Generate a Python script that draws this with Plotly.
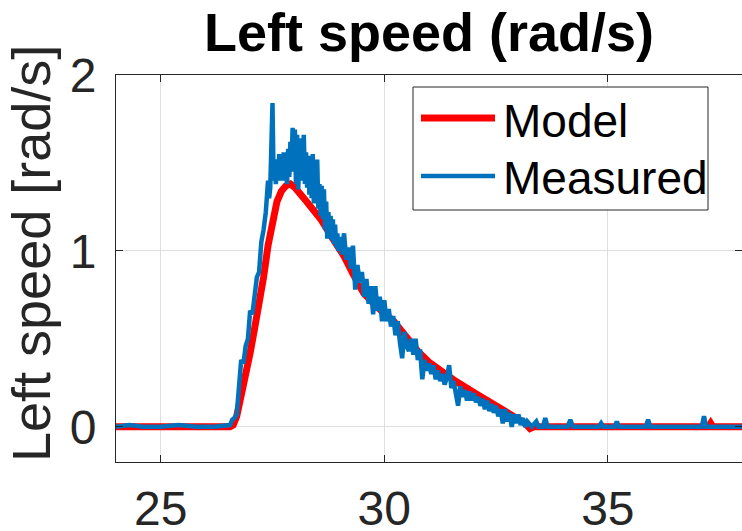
import plotly.graph_objects as go

# ---- data ----
model_t = [24.0, 26.55, 26.62, 26.7, 26.8, 26.9, 27.0, 27.1, 27.2, 27.3, 27.4, 27.5, 27.6, 27.7,
           27.8, 27.9, 28.0, 28.2, 28.4, 28.58, 28.8, 29.1, 29.3, 29.54, 29.8, 30.0, 30.21, 30.5,
           30.75, 30.99, 31.25, 31.59, 32.04, 32.3, 32.55, 32.8, 33.0, 33.15, 33.26, 33.35, 37.25,
           37.3, 37.35, 38.0]
model_v = [0.0, 0.0, 0.01, 0.06, 0.18, 0.29, 0.42, 0.56, 0.69, 0.85, 1.03, 1.18, 1.28, 1.34,
           1.37, 1.38, 1.36, 1.30, 1.24, 1.18, 1.09, 0.97, 0.87, 0.76, 0.69, 0.64, 0.60, 0.51,
           0.43, 0.37, 0.32, 0.26, 0.19, 0.15, 0.11, 0.07, 0.04, 0.02, -0.01, 0.0, 0.0,
           0.02, 0.0, 0.0]

meas_t = [24.00, 24.30, 24.60, 25.00, 25.40, 25.80, 26.20, 26.50, 26.55, 26.60, 26.65, 26.70,
          26.75, 26.80, 26.85, 26.90, 26.95, 27.00, 27.05, 27.10, 27.15, 27.20, 27.25, 27.30,
          27.35,
          27.400, 27.425, 27.450, 27.475, 27.500, 27.525, 27.550, 27.575, 27.600, 27.625,
          27.650, 27.675, 27.700, 27.725, 27.750, 27.775, 27.800, 27.825, 27.850, 27.875,
          27.900, 27.925, 27.950, 27.975, 28.000, 28.025, 28.050, 28.075, 28.100, 28.125,
          28.150, 28.175, 28.200, 28.225, 28.250, 28.275, 28.300, 28.325, 28.350, 28.375,
          28.400, 28.425, 28.450, 28.475, 28.500, 28.525, 28.550, 28.575, 28.600, 28.625,
          28.650, 28.675, 28.700, 28.725, 28.750, 28.775, 28.800, 28.825, 28.850, 28.875,
          28.900, 28.925, 28.950, 28.975,
          29.00, 29.05, 29.10,
          29.15, 29.20, 29.25, 29.30, 29.35, 29.40, 29.45, 29.50, 29.55, 29.60, 29.65, 29.70,
          29.75, 29.80, 29.85, 29.90, 29.95, 30.00, 30.05, 30.10, 30.15, 30.20, 30.25, 30.30,
          30.35, 30.40, 30.45, 30.50, 30.55, 30.60, 30.65, 30.70, 30.75, 30.80, 30.85, 30.90,
          30.95, 31.00, 31.05, 31.10, 31.15, 31.20, 31.25, 31.30, 31.35, 31.40, 31.45, 31.50,
          31.55, 31.60, 31.65, 31.70, 31.75, 31.80, 31.85, 31.90, 31.95, 32.00, 32.05, 32.10,
          32.15, 32.20, 32.25, 32.30, 32.35, 32.40, 32.45, 32.50, 32.55, 32.60, 32.65, 32.70,
          32.75, 32.80, 32.85, 32.90, 32.95, 33.00, 33.05, 33.10, 33.15, 33.20, 33.25, 33.30,
          33.40, 33.45, 33.55, 33.60, 33.65, 34.10, 34.16, 34.22, 34.80, 34.85, 34.90, 35.15,
          35.20, 35.25, 35.85, 35.90, 35.95, 37.10, 37.15, 37.20, 38.00]
meas_v = [0.00, 0.01, 0.00, 0.00, 0.01, 0.00, 0.00, 0.01, 0.01, 0.04, 0.05, 0.07,
          0.20, 0.38, 0.36, 0.46, 0.50, 0.66, 0.64, 0.74, 0.85, 0.88, 1.05, 1.12,
          1.22,
          1.40, 1.30, 1.36, 1.55, 1.84, 1.40, 1.48, 1.38, 1.52, 1.42,
          1.55, 1.40, 1.50, 1.42, 1.56, 1.40, 1.48, 1.38, 1.58, 1.42,
          1.62, 1.50, 1.70, 1.45, 1.69, 1.38, 1.66, 1.35, 1.52, 1.40,
          1.64, 1.45, 1.66, 1.38, 1.56, 1.36, 1.54, 1.32, 1.48, 1.30,
          1.55, 1.27, 1.45, 1.30, 1.52, 1.24, 1.38, 1.20, 1.37, 1.18,
          1.35, 1.12, 1.28, 1.07, 1.22, 1.10, 1.20, 1.06, 1.18, 1.04,
          1.15, 1.02, 1.10, 1.00,
          1.08, 0.98, 1.10,
          0.95, 1.02, 0.90, 1.03, 0.78, 0.92, 0.82, 0.88, 0.74, 0.84, 0.70, 0.80,
          0.64, 0.80, 0.66, 0.74, 0.60, 0.72, 0.60, 0.67, 0.57, 0.63, 0.52, 0.60,
          0.48, 0.39, 0.54, 0.46, 0.43, 0.50, 0.41, 0.50, 0.38, 0.44, 0.27, 0.38,
          0.32, 0.36, 0.30, 0.35, 0.27, 0.32, 0.26, 0.30, 0.24, 0.28, 0.35, 0.22,
          0.26, 0.20, 0.12, 0.23, 0.17, 0.21, 0.15, 0.20, 0.15, 0.19, 0.14, 0.17,
          0.12, 0.16, 0.10, 0.15, 0.09, 0.13, 0.08, 0.12, 0.06, 0.10, 0.02, 0.10,
          0.03, 0.08, 0.00, 0.07, 0.02, 0.07, 0.01, 0.05, 0.00, 0.03, 0.01, 0.00,
          0.03, 0.00, 0.00, 0.05, 0.00, 0.00, 0.04, 0.00, 0.00, 0.02, 0.00, 0.00,
          0.03, 0.00, 0.00, 0.04, 0.00, 0.00, 0.06, 0.00, 0.00]

x_ticks = [25, 30, 35]
y_ticks = [0, 1, 2]
title_text = "Left speed (rad/s)"
ylabel_text = "Left speed [rad/s]"
legend_names = ["Model", "Measured"]

# ---- style ----
FONT = "Liberation Sans, Arial, Helvetica, sans-serif"
DARK = "#262626"
GRID = "#dfdfdf"
RED = "#FF0000"
BLUE = "#0072BD"

W, H = 742, 531
ML, MR, MT, MB = 116, 0, 75, 69
PW, PH = W - ML - MR, H - MT - MB


def px2paper_x(px):
    return (px - ML) / PW


def px2paper_y(py):
    return (H - MB - py) / PH


fig = go.Figure()
fig.add_trace(go.Scatter(x=model_t, y=model_v, mode="lines", name=legend_names[0],
                         line=dict(color=RED, width=7), showlegend=False))
fig.add_trace(go.Scatter(x=meas_t, y=meas_v, mode="lines", name=legend_names[1],
                         line=dict(color=BLUE, width=4.5), showlegend=False))

axis_common = dict(
    showgrid=True, gridcolor=GRID, gridwidth=1, zeroline=False,
    showline=True, linecolor=DARK, linewidth=1, mirror="ticks",
    ticks="inside", ticklen=7, tickcolor=DARK, tickwidth=1,
    tickfont=dict(family=FONT, size=48, color=DARK),
    automargin=False,
)

fig.update_layout(
    width=W, height=H,
    margin=dict(l=ML, r=MR, t=MT, b=MB, pad=0),
    paper_bgcolor="white", plot_bgcolor="white",
    showlegend=False,
    title=dict(text="<b>" + title_text + "</b>", x=0.5, xref="paper", xanchor="center",
               y=1 - 32 / H, yref="container", yanchor="middle",
               font=dict(family=FONT, size=54, color="black"), automargin=False),
    xaxis=dict(range=[24, 38], tickvals=x_ticks, ticktext=[str(v) for v in x_ticks],
               ticklabelstandoff=4, **axis_common),
    yaxis=dict(range=[-0.2, 2], tickvals=y_ticks, ticktext=[str(v) for v in y_ticks],
               ticklabelstandoff=9, **axis_common),
)

# y-axis label
fig.add_annotation(text=ylabel_text, xref="paper", yref="paper",
                   x=px2paper_x(31), y=px2paper_y(254), xanchor="center", yanchor="middle",
                   textangle=-90, showarrow=False,
                   font=dict(family=FONT, size=54, color=DARK))

# legend box
fig.add_shape(type="rect", xref="paper", yref="paper",
              x0=px2paper_x(413), x1=px2paper_x(708), y0=px2paper_y(210), y1=px2paper_y(87),
              line=dict(color=DARK, width=1), fillcolor="white", layer="above")
legend_rows = [(RED, 7, 118, 121), (BLUE, 4.5, 176, 178)]
for (col, lw, ly, ty), name in zip(legend_rows, legend_names):
    fig.add_shape(type="line", xref="paper", yref="paper",
                  x0=px2paper_x(421), x1=px2paper_x(495), y0=px2paper_y(ly), y1=px2paper_y(ly),
                  line=dict(color=col, width=lw), layer="above")
    fig.add_annotation(text=name, xref="paper", yref="paper",
                       x=px2paper_x(501), y=px2paper_y(ty), xanchor="left", yanchor="middle",
                       showarrow=False, font=dict(family=FONT, size=46, color="black"))

fig.write_html("out.html", config={"displayModeBar": False},
               post_script="document.body.style.margin='0px';document.body.style.overflow='hidden';")
